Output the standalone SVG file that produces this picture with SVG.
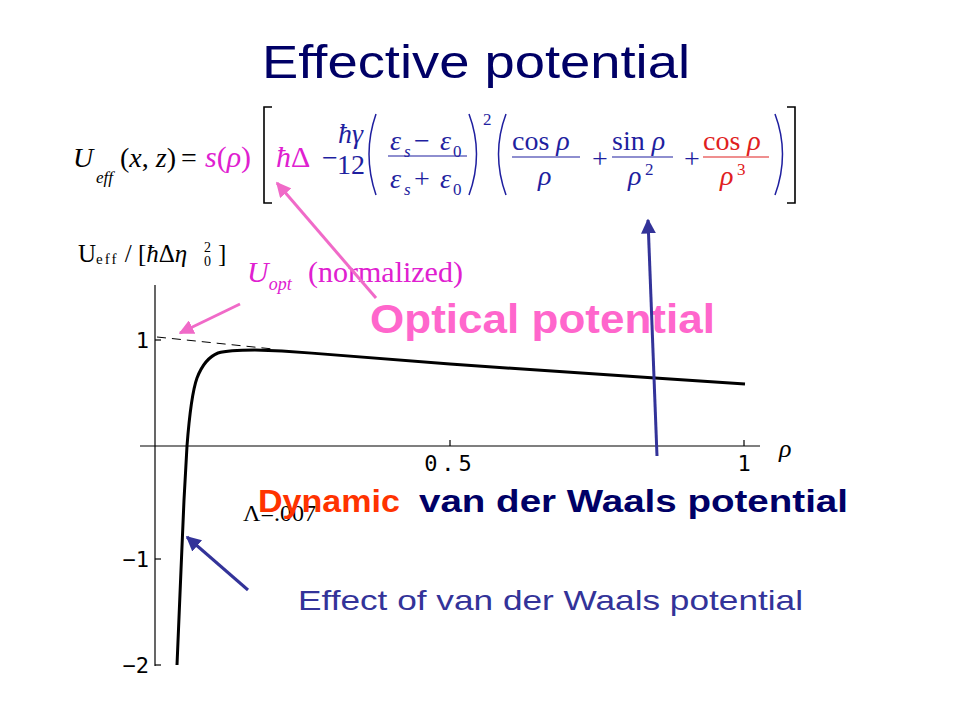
<svg xmlns="http://www.w3.org/2000/svg" width="960" height="720" viewBox="0 0 960 720">
<defs>
<style>
.title{font-family:"Liberation Sans","DejaVu Sans",sans-serif;font-size:46px;fill:#000066}
.eq{font-family:"Liberation Serif","DejaVu Serif",serif;font-size:28px}
.it{font-style:italic}
.sub{font-size:17px}
.blk{fill:#000}
.mag{fill:#e020d0}
.blu{fill:#1f1f9f}
.red{fill:#e02020}
.tick{font-family:"DejaVu Sans Mono","Liberation Mono",monospace;font-size:22px;fill:#000}
.lbl{font-family:"Liberation Sans","DejaVu Sans",sans-serif;font-weight:bold}
.ax{stroke:#000;stroke-width:1.2;fill:none}
.frac{stroke:#1f1f9f;stroke-width:1.2}
</style>
<marker id="ahPink" viewBox="0 0 10 10" refX="9" refY="5" markerWidth="5" markerHeight="5" orient="auto-start-reverse"><path d="M0,0 L10,5 L0,10 z" fill="#f06ac8"/></marker>
<marker id="ahBlue" viewBox="0 0 10 10" refX="9" refY="5" markerWidth="5" markerHeight="5" orient="auto-start-reverse"><path d="M0,0 L10,5 L0,10 z" fill="#333399"/></marker>
</defs>
<rect width="960" height="720" fill="#fff"/>

<g id="title"><text class="title" x="476" y="78" text-anchor="middle" textLength="428" lengthAdjust="spacingAndGlyphs">Effective potential</text></g>

<g id="equation" class="eq">
<text class="blk it" x="73" y="167">U</text>
<text class="blk it sub" x="96" y="183">eff</text>
<text class="blk" x="120" y="167">(<tspan class="it">x</tspan>, <tspan class="it">z</tspan>)</text>
<text class="blk" x="181" y="167">=</text>
<text class="mag" x="205" y="167" font-size="30"><tspan class="it">s</tspan>(<tspan class="it">ρ</tspan>)</text>
<path d="M272,107 L264,107 L264,203 L272,203" fill="none" stroke="#000" stroke-width="1.6"/>
<text class="mag" x="276" y="167" font-size="30"><tspan class="it">ħ</tspan>Δ</text>
<text class="blu" x="322" y="167">−</text>
<text class="blu it" x="338" y="143">ħγ</text>
<text class="blu" x="337" y="174">12</text>
<path d="M376,114 Q362,154 376,195" fill="none" stroke="#1f1f9f" stroke-width="1.5"/>
<text class="blu" x="390" y="150"><tspan class="it">ε</tspan></text>
<text class="blu it sub" x="404" y="157">s</text>
<text class="blu" x="414" y="150">−</text>
<text class="blu it" x="440" y="150">ε</text>
<text class="blu sub" x="453" y="157">0</text>
<line class="frac" x1="388" y1="156" x2="467" y2="156"/>
<text class="blu it" x="390" y="188">ε</text>
<text class="blu it sub" x="404" y="195">s</text>
<text class="blu" x="414" y="188">+</text>
<text class="blu it" x="440" y="188">ε</text>
<text class="blu sub" x="453" y="195">0</text>
<path d="M469,114 Q484,154 469,195" fill="none" stroke="#1f1f9f" stroke-width="1.5"/>
<text class="blu sub" x="483" y="125">2</text>
<path d="M506,114 Q491,154 506,195" fill="none" stroke="#1f1f9f" stroke-width="1.5"/>
<text class="blu" x="512" y="150">cos <tspan class="it">ρ</tspan></text>
<line class="frac" x1="512" y1="157" x2="580" y2="157"/>
<text class="blu it" x="538" y="185">ρ</text>
<text class="blu" x="592" y="168">+</text>
<text class="blu" x="612" y="150">sin <tspan class="it">ρ</tspan></text>
<line class="frac" x1="612" y1="157" x2="673" y2="157"/>
<text class="blu it" x="628" y="185">ρ</text>
<text class="blu sub" x="645" y="175">2</text>
<text class="blu" x="684" y="168">+</text>
<text class="red" x="703" y="150">cos <tspan class="it">ρ</tspan></text>
<line x1="703" y1="157" x2="769" y2="157" stroke="#e02020" stroke-width="1.2"/>
<text class="red it" x="720" y="185">ρ</text>
<text class="red sub" x="737" y="175">3</text>
<path d="M775,114 Q790,154 775,195" fill="none" stroke="#1f1f9f" stroke-width="1.5"/>
<path d="M787,107 L795,107 L795,203 L787,203" fill="none" stroke="#000" stroke-width="1.6"/>
</g>

<g id="plot-axes">
<line class="ax" x1="155" y1="285" x2="155" y2="666"/>
<line class="ax" x1="140" y1="446" x2="760" y2="446"/>
<line class="ax" x1="155" y1="340" x2="161" y2="340"/>
<line class="ax" x1="155" y1="559" x2="161" y2="559"/>
<line class="ax" x1="155" y1="665" x2="161" y2="665"/>
<line class="ax" x1="450" y1="440" x2="450" y2="446"/>
<line class="ax" x1="744" y1="440" x2="744" y2="446"/>
<text class="tick" x="149" y="348" text-anchor="end">1</text>
<text class="tick" x="149" y="567" text-anchor="end">−1</text>
<text class="tick" x="149" y="673" text-anchor="end">−2</text>
<text class="tick" x="450" y="471" text-anchor="middle" letter-spacing="4">0.5</text>
<text class="tick" x="744" y="471" text-anchor="middle">1</text>
<text x="779" y="457" font-family="Liberation Serif,serif" font-style="italic" font-size="26">ρ</text>
<text x="78" y="262" font-family="Liberation Serif,serif" font-size="25" fill="#000">U<tspan font-size="15" dy="2" letter-spacing="2">eff</tspan><tspan dy="-2"> / [</tspan><tspan font-style="italic">ħ</tspan>Δ<tspan font-style="italic">η</tspan></text>
<text x="204" y="252" font-family="Liberation Serif,serif" font-size="14">2</text>
<text x="204" y="266" font-family="Liberation Serif,serif" font-size="14">0</text>
<text x="218" y="262" font-family="Liberation Serif,serif" font-size="25">]</text>
</g>

<g id="curves">
<path d="M157,337 L273,349" fill="none" stroke="#000" stroke-width="1" stroke-dasharray="9,6"/>
<path d="M177,665 L181,570 L184,500 L187,446 C189,420 192,392 197,378 C202,365 208,357 218,353 C228,350 240,350 255,350 L282,351 C340,355 400,360 450,364 C520,369 600,374 655,378 L745,384" fill="none" stroke="#000" stroke-width="3"/>
<text x="243" y="521" font-family="Liberation Serif,serif" font-size="24" fill="#000">Λ=.007</text>
</g>

<g id="labels">
<text x="247" y="282" font-family="Liberation Serif,serif" font-size="30" fill="#e020d0"><tspan font-style="italic">U</tspan><tspan font-style="italic" font-size="18" dy="8">opt</tspan><tspan dy="-8" x="308">(normalized)</tspan></text>
<text class="lbl" x="370" y="333" font-size="40" fill="#ff66cc" textLength="345" lengthAdjust="spacingAndGlyphs">Optical potential</text>
<text class="lbl" x="258" y="512" font-size="31" fill="#ff3300" textLength="142" lengthAdjust="spacingAndGlyphs">Dynamic</text>
<text class="lbl" x="419" y="512" font-size="31" fill="#000066" textLength="429" lengthAdjust="spacingAndGlyphs">van der Waals potential</text>
<text x="298" y="610" font-family="Liberation Sans,sans-serif" font-size="28" fill="#333399" textLength="505" lengthAdjust="spacingAndGlyphs">Effect of van der Waals potential</text>
</g>

<g id="connectors">
<line x1="376" y1="298" x2="277" y2="183" stroke="#f06ac8" stroke-width="3" marker-end="url(#ahPink)"/>
<line x1="240" y1="304" x2="180" y2="333" stroke="#f06ac8" stroke-width="3" marker-end="url(#ahPink)"/>
<line x1="657" y1="456" x2="648" y2="220" stroke="#333399" stroke-width="3" marker-end="url(#ahBlue)"/>
<line x1="248" y1="590" x2="187" y2="537" stroke="#333399" stroke-width="3" marker-end="url(#ahBlue)"/>
</g>
</svg>
